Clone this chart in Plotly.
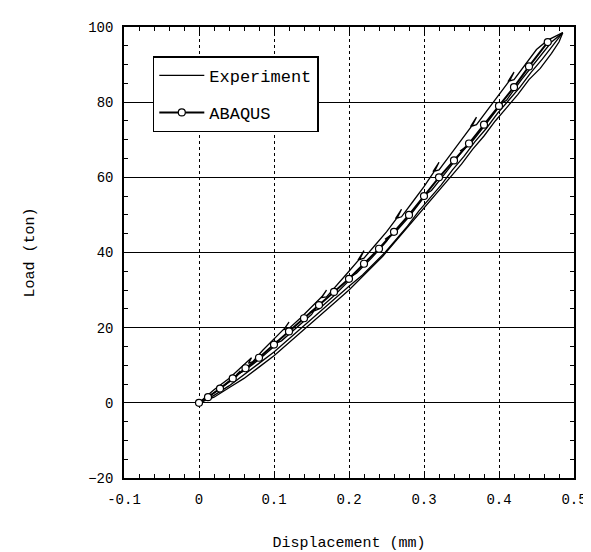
import plotly.graph_objects as go

# ABAQUS prediction (displacement mm, load ton)
abaqus_x = [0, 0.012, 0.028, 0.045, 0.062, 0.08, 0.1, 0.12, 0.14, 0.16, 0.18, 0.2, 0.22,
            0.24, 0.26, 0.28, 0.3, 0.32, 0.34, 0.36, 0.38, 0.4, 0.42, 0.44, 0.465]
abaqus_y = [0, 1.5, 3.8, 6.5, 9.2, 12, 15.5, 19, 22.5, 26, 29.5, 33, 37,
            41, 45.5, 50, 55, 60, 64.5, 69, 74, 79, 84, 89.5, 96]

# Experiment: loading path with small reload loops (upper side)
expA_x = [0, 0.02, 0.04, 0.06, 0.07, 0.066, 0.072, 0.085, 0.1, 0.115, 0.12, 0.113, 0.12,
          0.135, 0.15, 0.165, 0.17, 0.163, 0.17, 0.185, 0.2, 0.215, 0.22, 0.212, 0.22,
          0.235, 0.25, 0.265, 0.27, 0.262, 0.27, 0.285, 0.3, 0.315, 0.32, 0.312, 0.32,
          0.335, 0.35, 0.365, 0.37, 0.362, 0.37, 0.385, 0.4, 0.415, 0.42, 0.412, 0.42,
          0.435, 0.45, 0.465, 0.475, 0.485]
expA_y = [0, 3.5, 6.5, 10, 12, 10.5, 11, 14, 17, 20, 21.5, 19.5, 19.8,
          22.5, 25.5, 28.5, 30, 28, 28.2, 31.5, 35, 38.5, 40.5, 38, 38.5,
          42, 45.5, 49.5, 51.5, 49, 49.5, 53.5, 57.5, 62, 64, 61.5, 62,
          66, 70, 74, 76, 73.5, 74, 78, 82, 86, 88, 85.5, 86,
          90, 94, 96.5, 97.5, 98.5]
# Experiment: unloading path (lower side)
expB_x = [0.485, 0.48, 0.47, 0.455, 0.44, 0.425, 0.41, 0.395, 0.38, 0.365, 0.35, 0.335,
          0.32, 0.305, 0.29, 0.275, 0.26, 0.245, 0.23, 0.215, 0.2, 0.18, 0.16, 0.14,
          0.12, 0.1, 0.08, 0.06, 0.04, 0.02, 0]
expB_y = [98.5, 96, 93, 89, 86, 82, 78.5, 75, 71, 67.5, 63.5, 60,
          56.5, 53, 49.5, 46, 42.5, 39, 36, 33, 30, 26.5, 23, 19.5,
          16, 12.5, 9.5, 6.5, 4, 1.5, 0]
# Experiment: second loading cycle (near centre, with loops)
expC_x = [0, 0.03, 0.05, 0.055, 0.05, 0.06, 0.08, 0.1, 0.105, 0.098, 0.11, 0.13, 0.15,
          0.155, 0.148, 0.16, 0.18, 0.2, 0.205, 0.198, 0.21, 0.23, 0.25, 0.255, 0.248,
          0.26, 0.28, 0.3, 0.305, 0.298, 0.31, 0.33, 0.35, 0.355, 0.348, 0.36, 0.38,
          0.4, 0.405, 0.398, 0.41, 0.43, 0.45, 0.47, 0.485]
expC_y = [0, 4, 7, 8.5, 7.5, 8.5, 11.5, 15, 16.5, 15.5, 16.5, 20, 23.5,
          25, 24, 25, 28.5, 32.5, 34, 33, 34.5, 38.5, 43, 44.5, 43.5,
          45, 49.5, 54.5, 56, 55, 56.5, 61.5, 66.5, 68, 67, 68.5, 73.5,
          78.5, 80, 79, 80.5, 86, 91, 96, 98.5]
# Experiment: second unloading (between centre and lower side)
expD_x = [0.485, 0.472, 0.458, 0.443, 0.428, 0.413, 0.398, 0.383, 0.368, 0.353, 0.338,
          0.323, 0.308, 0.293, 0.278, 0.263, 0.248, 0.233, 0.218, 0.2, 0.18, 0.16,
          0.14, 0.12, 0.1, 0.08, 0.06, 0.04, 0.02, 0]
expD_y = [98.5, 95, 91.5, 88, 84, 80.5, 77, 73, 69.5, 65.5, 62,
          58, 54.5, 51, 47, 43.5, 40, 37, 34, 31, 27.5, 24,
          20.5, 17, 13.5, 10.5, 7.5, 4.5, 2, 0]

x_ticks = [-0.1, 0, 0.1, 0.2, 0.3, 0.4, 0.5]
x_ticktext = ["-0.1", "0", "0.1", "0.2", "0.3", "0.4", "0.5"]
y_ticks = [-20, 0, 20, 40, 60, 80, 100]

FONT = "Liberation Mono, Courier New, monospace"

fig = go.Figure()
fig.add_trace(go.Scatter(x=expA_x, y=expA_y, mode="lines", name="Experiment",
                         line=dict(color="black", width=1.3), legendgroup="a"))
for ex, ey in [(expB_x, expB_y), (expC_x, expC_y), (expD_x, expD_y)]:
    fig.add_trace(go.Scatter(x=ex, y=ey, mode="lines", showlegend=False,
                             line=dict(color="black", width=1.3), legendgroup="a"))
fig.add_trace(go.Scatter(x=abaqus_x, y=abaqus_y, mode="lines+markers", name="ABAQUS",
                         line=dict(color="black", width=2), legendgroup="b",
                         marker=dict(symbol="circle", size=7, color="white",
                                     line=dict(color="black", width=1.2))))

axis_common = dict(
    showline=True, linecolor="black", linewidth=1.5, mirror="allticks",
    ticks="inside", ticklen=6, tickcolor="black", tickwidth=1,
    zeroline=False, gridcolor="black", gridwidth=1,
    tickfont=dict(family=FONT, size=14, color="black"),
)

fig.update_xaxes(range=[-0.1, 0.5], tickvals=x_ticks, ticktext=x_ticktext,
                 griddash="dot", ticklabelstandoff=7,
                 minor=dict(dtick=0.02, tick0=0, ticks="inside", ticklen=4,
                            tickcolor="black", showgrid=False),
                 title=dict(text="Displacement (mm)", standoff=30,
                            font=dict(family=FONT, size=15, color="black")),
                 **axis_common)
fig.update_yaxes(range=[-20, 100], tickvals=y_ticks, griddash="solid",
                 ticklabelstandoff=6,
                 minor=dict(dtick=5, tick0=0, ticks="inside", ticklen=4,
                            tickcolor="black", showgrid=False),
                 title=dict(text="Load (ton)", standoff=50,
                            font=dict(family=FONT, size=15, color="black")),
                 **axis_common)

fig.update_layout(
    width=591, height=552,
    margin=dict(l=116, r=25, t=13, b=81),
    paper_bgcolor="white", plot_bgcolor="white",
    font=dict(family=FONT, size=14, color="black"),
    showlegend=True,
    legend=dict(x=0.064, y=0.935, xanchor="left", yanchor="top",
                bgcolor="white", bordercolor="black", borderwidth=1.5,
                traceorder="grouped", tracegroupgap=12, itemwidth=45,
                font=dict(family=FONT, size=17, color="black")),
)

fig.write_html("out.html")
